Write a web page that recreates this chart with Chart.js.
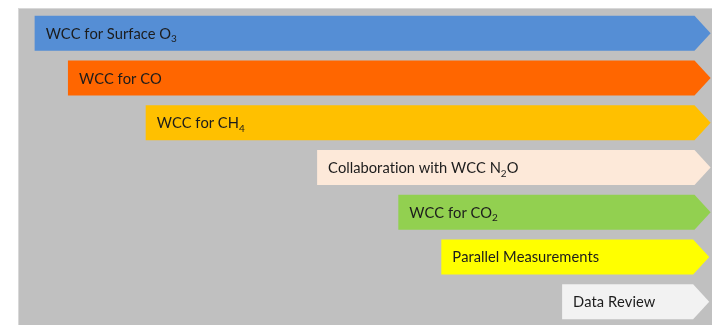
<!DOCTYPE html>
<html>
<head>
<meta charset="utf-8">
<script src="https://cdn.jsdelivr.net/npm/chart.js@4"></script>
<style>
  html, body { margin: 0; padding: 0; background: #ffffff; }
  #panel {
    position: absolute; left: 18px; top: 8px; width: 694px; height: 317px;
    background: #c0c0c0; box-shadow: inset 1px 1px 0 #d8d8d8;
  }
  #panel canvas { display: block; }
</style>
</head>
<body>
<div id="panel"><canvas id="timeline"></canvas></div>
<script>
// Work streams, in order from top to bottom
const tasks = [
  'WCC for Surface O₃',
  'WCC for CO',
  'WCC for CH₄',
  'Collaboration with WCC N₂O',
  'WCC for CO₂',
  'Parallel Measurements',
  'Data Review'
];
// Start and end of each stream on a 0–100 timeline
const startValues = [2.4, 7.2, 18.4, 43.1, 54.8, 61.0, 78.4];
const endValues   = [99.8, 99.8, 99.8, 99.8, 99.8, 99.6, 99.6];
const barColors   = ['#558ed5', '#ff6600', '#ffc000', '#fde9d9', '#92d050', '#ffff00', '#f2f2f2'];

const SUBSCRIPTS = { '₀':'0','₁':'1','₂':'2','₃':'3','₄':'4','₅':'5','₆':'6','₇':'7','₈':'8','₉':'9' };
const FONT_FAMILY = 'Lato, "Open Sans", sans-serif';

// Draws each bar as a chevron arrow pointing to its end date
const arrowBars = {
  id: 'arrowBars',
  beforeDatasetDraw(chart, args) {
    const ctx = chart.ctx;
    const meta = args.meta;
    ctx.save();
    meta.data.forEach((bar) => {
      const p = bar.getProps(['x', 'y', 'base', 'height'], true);
      const left = Math.min(p.x, p.base);
      const right = Math.max(p.x, p.base);
      const top = p.y - p.height / 2;
      const bottom = p.y + p.height / 2;
      const tip = p.height * 0.46;
      ctx.beginPath();
      ctx.moveTo(left, top);
      ctx.lineTo(right - tip, top);
      ctx.lineTo(right, p.y);
      ctx.lineTo(right - tip, bottom);
      ctx.lineTo(left, bottom);
      ctx.closePath();
      ctx.fillStyle = bar.options.backgroundColor;
      ctx.fill();
    });
    ctx.restore();
    return false;
  },
  afterDatasetsDraw(chart) {
    const ctx = chart.ctx;
    const meta = chart.getDatasetMeta(0);
    ctx.save();
    ctx.fillStyle = '#1c1c1c';
    ctx.textBaseline = 'alphabetic';
    ctx.textAlign = 'left';
    meta.data.forEach((bar, i) => {
      const p = bar.getProps(['x', 'y', 'base'], true);
      let x = Math.min(p.x, p.base) + 11;
      const baseline = p.y + 5.5;
      for (const ch of chart.data.labels[i]) {
        if (SUBSCRIPTS[ch]) {
          ctx.font = '10px ' + FONT_FAMILY;
          ctx.fillText(SUBSCRIPTS[ch], x, baseline + 3.5);
          x += ctx.measureText(SUBSCRIPTS[ch]).width;
        } else {
          ctx.font = '14.7px ' + FONT_FAMILY;
          ctx.fillText(ch, x, baseline);
          x += ctx.measureText(ch).width;
        }
      }
    });
    ctx.restore();
  }
};

new Chart(document.getElementById('timeline'), {
  type: 'bar',
  data: {
    labels: tasks,
    datasets: [{
      data: startValues.map((s, i) => [s, endValues[i]]),
      backgroundColor: barColors,
      borderSkipped: false,
      barThickness: 35
    }]
  },
  options: {
    indexAxis: 'y',
    responsive: true,
    maintainAspectRatio: false,
    animation: false,
    layout: { padding: { top: 3, bottom: 1, left: 0, right: 0 } },
    scales: {
      x: { min: 0, max: 100, display: false },
      y: { display: false }
    },
    plugins: {
      legend: { display: false },
      tooltip: { enabled: false }
    }
  },
  plugins: [arrowBars]
});
</script>
</body>
</html>
